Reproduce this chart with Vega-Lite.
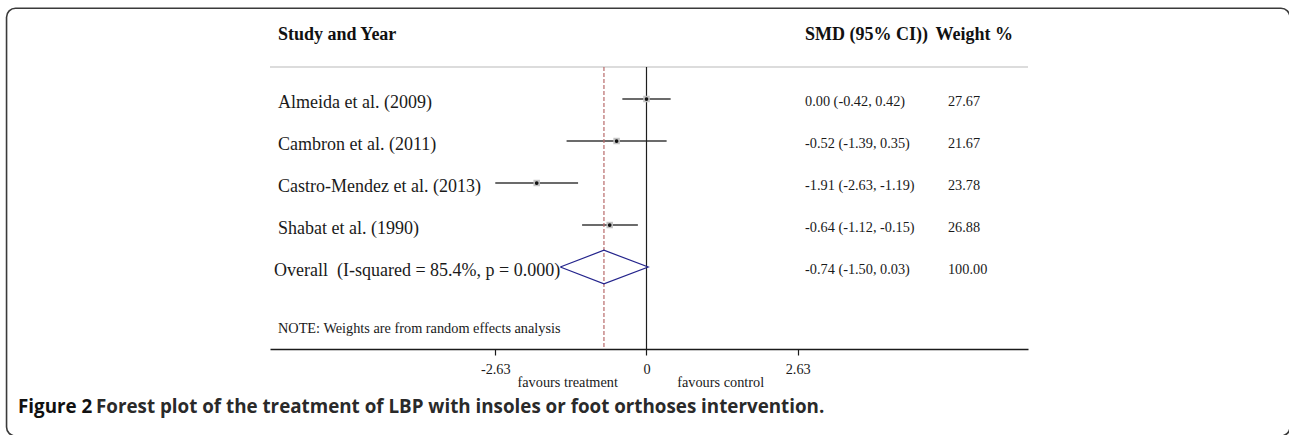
{
  "$schema": "https://vega.github.io/schema/vega-lite/v6.json",
  "width": 758,
  "height": 282,
  "autosize": {"type": "none"},
  "padding": {"left": 270, "top": 67, "right": 261, "bottom": 86},
  "background": "white",
  "config": {"view": {"stroke": null}},
  "datasets": {
    "rows": [
      {"label": "Almeida et al. (2009)", "es": 0.0, "lo": -0.42, "hi": 0.42, "ci_text": "0.00 (-0.42, 0.42)", "weight_text": "27.67", "row": 1, "kind": "study"},
      {"label": "Cambron et al. (2011)", "es": -0.52, "lo": -1.39, "hi": 0.35, "ci_text": "-0.52 (-1.39, 0.35)", "weight_text": "21.67", "row": 2, "kind": "study"},
      {"label": "Castro-Mendez et al. (2013)", "es": -1.91, "lo": -2.63, "hi": -1.19, "ci_text": "-1.91 (-2.63, -1.19)", "weight_text": "23.78", "row": 3, "kind": "study"},
      {"label": "Shabat et al. (1990)", "es": -0.64, "lo": -1.12, "hi": -0.15, "ci_text": "-0.64 (-1.12, -0.15)", "weight_text": "26.88", "row": 4, "kind": "study"},
      {"label": "Overall\u00a0\u00a0(I-squared = 85.4%, p = 0.000)", "es": -0.74, "lo": -1.5, "hi": 0.03, "ci_text": "-0.74 (-1.50, 0.03)", "weight_text": "100.00", "row": 5, "kind": "overall"}
    ],
    "diamond": [
      {"ord": 1, "x": -1.5, "y": 5},
      {"ord": 2, "x": -0.74, "y": 4.6},
      {"ord": 3, "x": 0.03, "y": 5},
      {"ord": 4, "x": -0.74, "y": 5.4},
      {"ord": 5, "x": -1.5, "y": 5}
    ],
    "one": [{}]
  },
  "layer": [
    {
      "data": {"name": "rows"},
      "transform": [{"filter": "datum.kind == 'study'"}],
      "mark": {"type": "rule", "color": "#3a3a3a", "strokeWidth": 1.3},
      "encoding": {
        "x": {
          "field": "lo", "type": "quantitative", "title": null,
          "scale": {"domain": [-6.548, 6.635], "nice": false, "zero": false},
          "axis": {
            "values": [-2.63, 0, 2.63], "title": null, "grid": false,
            "domainColor": "#1a1a1a", "domainWidth": 1.5,
            "tickColor": "#1a1a1a", "tickSize": 6, "tickWidth": 1.2,
            "labelFont": "Liberation Serif", "labelFontSize": 14.3, "labelColor": "#1a1a1a",
            "labelPadding": 7, "labelExpr": "'' + datum.value", "labelFlush": false, "labelOverlap": false
          }
        },
        "x2": {"field": "hi"},
        "y": {"field": "row", "type": "quantitative", "scale": {"domain": [0.238, 6.952], "reverse": true, "nice": false, "zero": false}, "axis": null}
      }
    },
    {
      "data": {"name": "one"},
      "mark": {"type": "rect", "fill": "white", "fillOpacity": 0, "stroke": "#3a3a3a", "strokeWidth": 1.6, "cornerRadius": 9},
      "encoding": {
        "x": {"datum": -11.13, "type": "quantitative", "title": null},
        "x2": {"datum": 11.191},
        "y": {"datum": -1.16, "type": "quantitative", "axis": null},
        "y2": {"datum": 9.024}
      }
    },
    {
      "data": {"name": "one"},
      "mark": {"type": "rule", "color": "#d0d0d0", "strokeWidth": 1.5},
      "encoding": {
        "y": {"datum": 0.238, "type": "quantitative", "axis": null}
      }
    },
    {
      "data": {"name": "one"},
      "mark": {"type": "rule", "color": "#1e1e1e", "strokeWidth": 1.2},
      "encoding": {
        "x": {"datum": 0, "type": "quantitative", "title": null}
      }
    },
    {
      "data": {"name": "rows"},
      "transform": [{"filter": "datum.kind == 'overall'"}],
      "mark": {"type": "rule", "color": "#b86a6a", "strokeWidth": 1.2, "strokeDash": [4, 2]},
      "encoding": {
        "x": {"field": "es", "type": "quantitative", "title": null}
      }
    },
    {
      "data": {"name": "rows"},
      "transform": [{"filter": "datum.kind == 'study'"}],
      "mark": {"type": "point", "shape": "square", "size": 42, "filled": true, "color": "#c4c4c4", "opacity": 1},
      "encoding": {
        "x": {"field": "es", "type": "quantitative", "title": null},
        "y": {"field": "row", "type": "quantitative", "axis": null}
      }
    },
    {
      "data": {"name": "rows"},
      "transform": [{"filter": "datum.kind == 'study'"}],
      "mark": {"type": "point", "shape": "circle", "size": 14, "filled": true, "color": "#111111", "opacity": 1},
      "encoding": {
        "x": {"field": "es", "type": "quantitative", "title": null},
        "y": {"field": "row", "type": "quantitative", "axis": null}
      }
    },
    {
      "data": {"name": "diamond"},
      "mark": {"type": "line", "color": "#24248c", "strokeWidth": 1.2},
      "encoding": {
        "x": {"field": "x", "type": "quantitative", "title": null},
        "y": {"field": "y", "type": "quantitative", "axis": null},
        "order": {"field": "ord", "type": "quantitative"}
      }
    },
    {
      "data": {"name": "rows"},
      "transform": [{"filter": "datum.kind == 'study'"}],
      "mark": {"type": "text", "align": "left", "baseline": "alphabetic", "dy": 9, "font": "Liberation Serif", "fontSize": 18, "color": "#1a1a1a"},
      "encoding": {
        "x": {"datum": -6.409, "type": "quantitative", "title": null},
        "y": {"field": "row", "type": "quantitative", "axis": null},
        "text": {"field": "label"}
      }
    },
    {
      "data": {"name": "rows"},
      "transform": [{"filter": "datum.kind == 'overall'"}],
      "mark": {"type": "text", "align": "right", "baseline": "alphabetic", "dy": 9, "font": "Liberation Serif", "fontSize": 18, "color": "#1a1a1a"},
      "encoding": {
        "x": {"field": "lo", "type": "quantitative", "title": null},
        "y": {"field": "row", "type": "quantitative", "axis": null},
        "text": {"field": "label"}
      }
    },
    {
      "data": {"name": "rows"},
      "mark": {"type": "text", "align": "left", "baseline": "alphabetic", "dy": 7, "font": "Liberation Serif", "fontSize": 14.3, "color": "#1a1a1a"},
      "encoding": {
        "x": {"datum": 2.757, "type": "quantitative", "title": null},
        "y": {"field": "row", "type": "quantitative", "axis": null},
        "text": {"field": "ci_text"}
      }
    },
    {
      "data": {"name": "rows"},
      "mark": {"type": "text", "align": "left", "baseline": "alphabetic", "dy": 7, "font": "Liberation Serif", "fontSize": 14.3, "color": "#1a1a1a"},
      "encoding": {
        "x": {"datum": 5.243, "type": "quantitative", "title": null},
        "y": {"field": "row", "type": "quantitative", "axis": null},
        "text": {"field": "weight_text"}
      }
    },
    {
      "data": {"name": "one"},
      "mark": {"type": "text", "align": "left", "baseline": "alphabetic", "font": "Liberation Serif", "fontSize": 18, "fontWeight": "bold", "color": "#111111"},
      "encoding": {
        "x": {"datum": -6.409, "type": "quantitative", "title": null},
        "y": {"datum": -0.405, "type": "quantitative", "axis": null},
        "text": {"value": "Study and Year"}
      }
    },
    {
      "data": {"name": "one"},
      "mark": {"type": "text", "align": "left", "baseline": "alphabetic", "font": "Liberation Serif", "fontSize": 18, "fontWeight": "bold", "color": "#111111"},
      "encoding": {
        "x": {"datum": 2.757, "type": "quantitative", "title": null},
        "y": {"datum": -0.405, "type": "quantitative", "axis": null},
        "text": {"value": "SMD (95% CI))"}
      }
    },
    {
      "data": {"name": "one"},
      "mark": {"type": "text", "align": "left", "baseline": "alphabetic", "font": "Liberation Serif", "fontSize": 18, "fontWeight": "bold", "color": "#111111"},
      "encoding": {
        "x": {"datum": 5.028, "type": "quantitative", "title": null},
        "y": {"datum": -0.405, "type": "quantitative", "axis": null},
        "text": {"value": "Weight %"}
      }
    },
    {
      "data": {"name": "one"},
      "mark": {"type": "text", "align": "left", "baseline": "alphabetic", "font": "Liberation Serif", "fontSize": 14.3, "color": "#1a1a1a"},
      "encoding": {
        "x": {"datum": -6.409, "type": "quantitative", "title": null},
        "y": {"datum": 6.571, "type": "quantitative", "axis": null},
        "text": {"value": "NOTE: Weights are from random effects analysis"}
      }
    },
    {
      "data": {"name": "one"},
      "mark": {"type": "text", "align": "center", "baseline": "alphabetic", "font": "Liberation Serif", "fontSize": 14.3, "color": "#1a1a1a"},
      "encoding": {
        "x": {"datum": -1.37, "type": "quantitative", "title": null},
        "y": {"datum": 7.845, "type": "quantitative", "axis": null},
        "text": {"value": "favours treatment"}
      }
    },
    {
      "data": {"name": "one"},
      "mark": {"type": "text", "align": "center", "baseline": "alphabetic", "font": "Liberation Serif", "fontSize": 14.3, "color": "#1a1a1a"},
      "encoding": {
        "x": {"datum": 1.29, "type": "quantitative", "title": null},
        "y": {"datum": 7.845, "type": "quantitative", "axis": null},
        "text": {"value": "favours control"}
      }
    },
    {
      "data": {"name": "one"},
      "mark": {"type": "text", "align": "left", "baseline": "alphabetic", "font": "Open Sans", "fontSize": 18.8, "fontWeight": "bold", "color": "#111111"},
      "encoding": {
        "x": {"datum": -10.93, "type": "quantitative", "title": null},
        "y": {"datum": 8.476, "type": "quantitative", "axis": null},
        "text": {"value": "Figure 2"}
      }
    },
    {
      "data": {"name": "one"},
      "mark": {"type": "text", "align": "left", "baseline": "alphabetic", "font": "Open Sans", "fontSize": 18.8, "fontWeight": "bold", "color": "#2a2a2a"},
      "encoding": {
        "x": {"datum": -9.574, "type": "quantitative", "title": null},
        "y": {"datum": 8.476, "type": "quantitative", "axis": null},
        "text": {"value": "Forest plot of the treatment of LBP with insoles or foot orthoses intervention."}
      }
    }
  ]
}
